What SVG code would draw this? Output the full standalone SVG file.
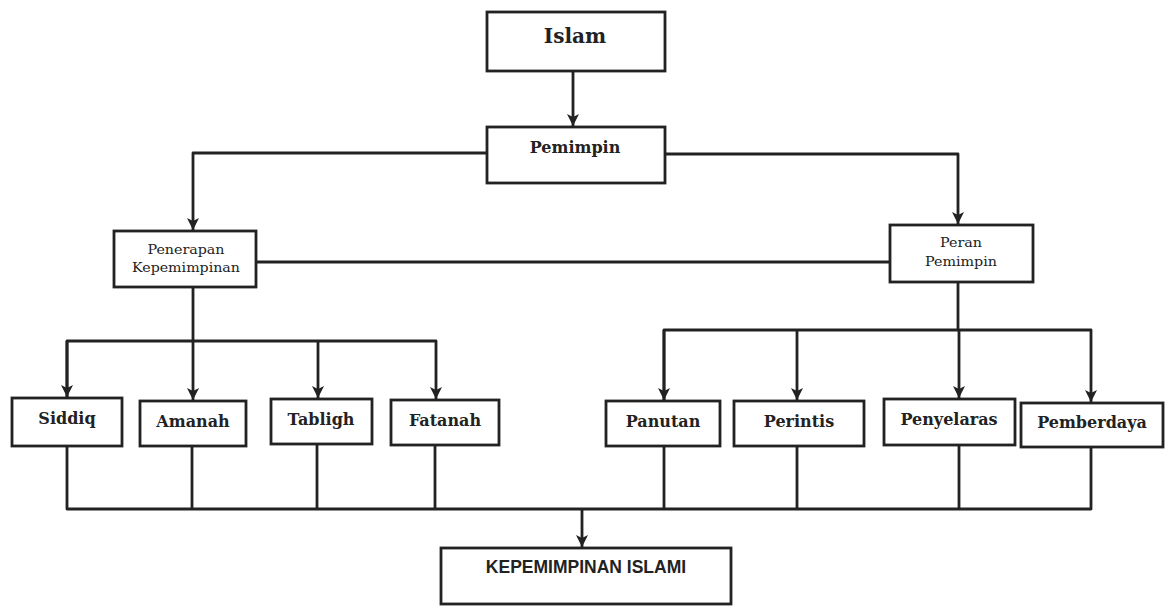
<svg xmlns="http://www.w3.org/2000/svg" width="1165" height="608" viewBox="0 0 1165 608">
<style>
.box{fill:#fff;stroke:#222;stroke-width:2.8}
.t{font-family:"DejaVu Serif","Liberation Serif",serif;font-weight:bold;font-size:16px;fill:#222;text-anchor:middle}
.s{font-family:"DejaVu Serif","Liberation Serif",serif;font-size:12px;fill:#222;text-anchor:middle}
.k{font-family:"Liberation Sans",Arial,sans-serif;font-weight:bold;font-size:17.5px;fill:#222;text-anchor:middle}
.c{fill:none;stroke:#222;stroke-width:2.8;stroke-linejoin:round}
</style>
<defs>
<marker id="ah" markerUnits="userSpaceOnUse" markerWidth="14" markerHeight="14" refX="12" refY="7" orient="auto">
<path d="M0,1 L12,7 L0,13 L3,7 Z" fill="#222"/>
</marker>
</defs>
<rect width="1165" height="608" fill="#fff"/>
<g id="connectors">
<path class="c" d="M573,71 V126" marker-end="url(#ah)"/>
<path class="c" d="M487,153 H193 V230" marker-end="url(#ah)"/>
<path class="c" d="M665,154 H958 V224" marker-end="url(#ah)"/>
<path class="c" d="M256,262 H890"/>
<path class="c" d="M193,287 V341"/>
<path class="c" d="M67,397 V341 H436 V399" marker-end="url(#ah)"/>
<path class="c" d="M193,341 V400" marker-end="url(#ah)"/>
<path class="c" d="M318,341 V398" marker-end="url(#ah)"/>
<path class="c" d="M67,341 V397" marker-end="url(#ah)"/>
<path class="c" d="M958,282 V330"/>
<path class="c" d="M664,400 V330 H1091 V402" marker-end="url(#ah)"/>
<path class="c" d="M664,330 V400" marker-end="url(#ah)"/>
<path class="c" d="M797,330 V400" marker-end="url(#ah)"/>
<path class="c" d="M959,330 V398" marker-end="url(#ah)"/>
<path class="c" d="M67,446 V509 H1091 V447"/>
<path class="c" d="M192,446 V509"/>
<path class="c" d="M317,444 V509"/>
<path class="c" d="M435,445 V509"/>
<path class="c" d="M664,446 V509"/>
<path class="c" d="M797,446 V509"/>
<path class="c" d="M959,445 V509"/>
<path class="c" d="M582,509 V547" marker-end="url(#ah)"/>
</g>
<g id="n-islam"><rect class="box" x="487" y="12" width="178" height="59"/><text class="t" x="575" y="43" style="font-size:20px">Islam</text></g>
<g id="n-pemimpin"><rect class="box" x="487" y="127" width="178" height="56"/><text class="t" x="575" y="153">Pemimpin</text></g>
<g id="n-penerapan"><rect class="box" x="114" y="231" width="142" height="56"/><text class="s" x="186" y="254" textLength="77" lengthAdjust="spacingAndGlyphs">Penerapan</text><text class="s" x="186" y="272" textLength="108" lengthAdjust="spacingAndGlyphs">Kepemimpinan</text></g>
<g id="n-peran"><rect class="box" x="890" y="225" width="143" height="57"/><text class="s" x="961" y="247" textLength="42" lengthAdjust="spacingAndGlyphs">Peran</text><text class="s" x="961" y="266" textLength="72" lengthAdjust="spacingAndGlyphs">Pemimpin</text></g>
<g id="n-siddiq"><rect class="box" x="12" y="398" width="110" height="48"/><text class="t" x="67" y="424">Siddiq</text></g>
<g id="n-amanah"><rect class="box" x="140" y="401" width="106" height="45"/><text class="t" x="193" y="427">Amanah</text></g>
<g id="n-tabligh"><rect class="box" x="271" y="399" width="101" height="45"/><text class="t" x="321" y="425">Tabligh</text></g>
<g id="n-fatanah"><rect class="box" x="391" y="400" width="108" height="45"/><text class="t" x="445" y="426">Fatanah</text></g>
<g id="n-panutan"><rect class="box" x="606" y="401" width="114" height="45"/><text class="t" x="663" y="427">Panutan</text></g>
<g id="n-perintis"><rect class="box" x="734" y="401" width="130" height="45"/><text class="t" x="799" y="427">Perintis</text></g>
<g id="n-penyelaras"><rect class="box" x="884" y="399" width="131" height="46"/><text class="t" x="949" y="425">Penyelaras</text></g>
<g id="n-pemberdaya"><rect class="box" x="1021" y="403" width="142" height="44"/><text class="t" x="1092" y="428">Pemberdaya</text></g>
<g id="n-kepemimpinan"><rect class="box" x="441" y="548" width="290" height="56"/><text class="k" x="586" y="573">KEPEMIMPINAN ISLAMI</text></g>
</svg>
